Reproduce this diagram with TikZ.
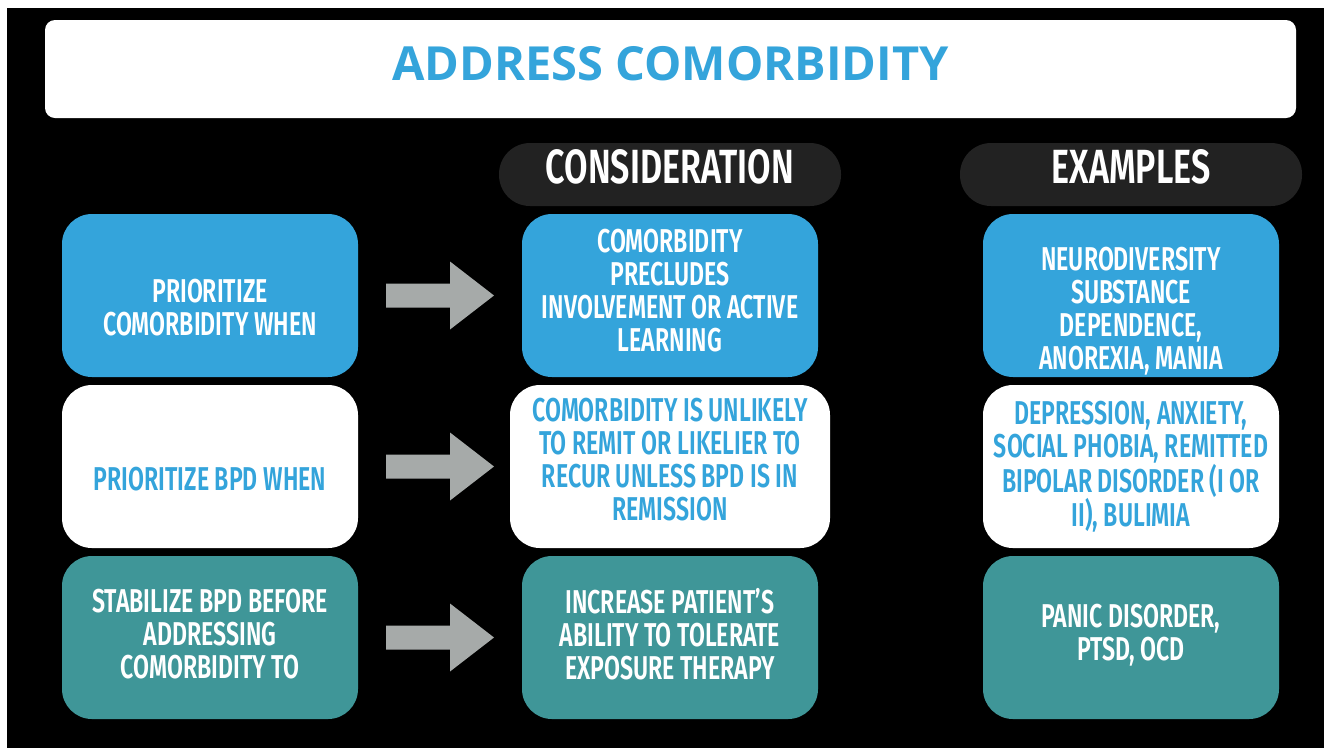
\documentclass[tikz,border=0pt]{standalone}
\usepackage{fontspec}
\usepackage{xcolor}
\usetikzlibrary{positioning,calc}

\newfontfamily\titlefont{Open Sans}
\newfontfamily\condfont[FakeStretch=0.70, BoldFont={* SemiBold}]{Fira Sans}
\newfontfamily\headfont[FakeStretch=0.71, BoldFont={* SemiBold}]{Fira Sans}

\definecolor{cblue}{HTML}{34A4DB}
\definecolor{cteal}{HTML}{3F9698}
\definecolor{cpill}{HTML}{222222}
\definecolor{cgray}{HTML}{A6AAA9}

\tikzset{
  rowbox/.style={rounded corners=30pt, minimum width=296pt, minimum height=163pt,
    inner sep=0pt, outer sep=0pt},
  bluebox/.style={rowbox, fill=cblue},
  whitebox/.style={rowbox, fill=white},
  tealbox/.style={rowbox, fill=cteal},
  boxtext/.style={align=center, inner sep=0pt, text=white,
    font=\condfont\bfseries\fontsize{33}{33}\selectfont},
  bluetext/.style={boxtext, text=cblue},
  headpill/.style={rounded corners=31pt, fill=cpill, minimum width=342pt,
    minimum height=63pt, inner sep=0pt},
  headtext/.style={text=white, inner sep=0pt,
    font=\headfont\bfseries\fontsize{48}{48}\selectfont},
  fatarrow/.style={fill=cgray}
}

\begin{document}
\begin{tikzpicture}[x=1pt, y=-1pt]
  % page and black background
  \fill[white] (0,0) rectangle (1324,748);
  \fill[black] (7,8) rectangle (1324,748);
  \useasboundingbox (0,0) rectangle (1324,748);

  % title bar
  \node[fill=white, rounded corners=10pt, minimum width=1251pt, minimum height=98pt] (title) at (670.5,69) {};
  \node[text=cblue, font=\titlefont\bfseries\fontsize{47}{47}\selectfont] (titletext) at ($(title)+(0,-5.5)$) {ADDRESS COMORBIDITY};

  % column heads
  \node[headpill] (hcons) at (670,174.5) {};
  \node[headtext] (hconst) at ($(hcons)+(0,-8)$) {CONSIDERATION};
  \node[headpill] (hexam) at (1131,174.5) {};
  \node[headtext] (hexamt) at ($(hexam)+(0,-8)$) {EXAMPLES};

  % left column
  \node[bluebox] (l1) at (210,295.5) {};
  \node[whitebox, below=8pt of l1] (l2) {};
  \node[tealbox, below=8pt of l2] (l3) {};
  \node[boxtext] (l1t) at ($(l1)+(0,12.5)$) {PRIORITIZE\\COMORBIDITY WHEN};
  \node[bluetext] (l2t) at ($(l2)+(0,13)$) {PRIORITIZE BPD WHEN};
  \node[boxtext] (l3t) at ($(l3)+(0,-3)$) {STABILIZE BPD BEFORE\\ADDRESSING\\COMORBIDITY TO};

  % middle column
  \node[bluebox] (m1) at (670,295.5) {};
  \node[whitebox, minimum width=320pt, below=8pt of m1] (m2) {};
  \node[tealbox, below=8pt of m2] (m3) {};
  \node[boxtext] (m1t) at ($(m1)+(0,-4.5)$) {COMORBIDITY\\PRECLUDES\\INVOLVEMENT OR ACTIVE\\LEARNING};
  \node[bluetext] (m2t) at ($(m2)+(0,-7)$) {COMORBIDITY IS UNLIKELY\\TO REMIT OR LIKELIER TO\\RECUR UNLESS BPD IS IN\\REMISSION};
  \node[boxtext] (m3t) at ($(m3)+(0,-3)$) {INCREASE PATIENT’S\\ABILITY TO TOLERATE\\EXPOSURE THERAPY};

  % right column
  \node[bluebox] (r1) at (1131,295.5) {};
  \node[whitebox, below=8pt of r1] (r2) {};
  \node[tealbox, below=8pt of r2] (r3) {};
  \node[boxtext] (r1t) at ($(r1)+(0,16)$) {NEURODIVERSITY\\SUBSTANCE\\DEPENDENCE,\\ANOREXIA, MANIA};
  \node[bluetext] (r2t) at ($(r2)+(0,0)$) {DEPRESSION, ANXIETY,\\SOCIAL PHOBIA, REMITTED\\BIPOLAR DISORDER (I OR\\II), BULIMIA};
  \node[boxtext] (r3t) at ($(r3)+(0,-2)$) {PANIC DISORDER,\\PTSD, OCD};

  % block arrows from left boxes towards middle boxes
  \foreach \r in {1,2,3} {
    \coordinate (a\r) at ($(l\r.east)+(28,0)$);
    \coordinate (t\r) at ($(l\r.east)+(136,0)$);
    \fill[fatarrow] ($(a\r)+(0,-12)$) -- ($(t\r)+(-44,-12)$) -- ($(t\r)+(-44,-34)$)
      -- (t\r) -- ($(t\r)+(-44,34)$) -- ($(t\r)+(-44,12)$) -- ($(a\r)+(0,12)$) -- cycle;
  }
\end{tikzpicture}
\end{document}
